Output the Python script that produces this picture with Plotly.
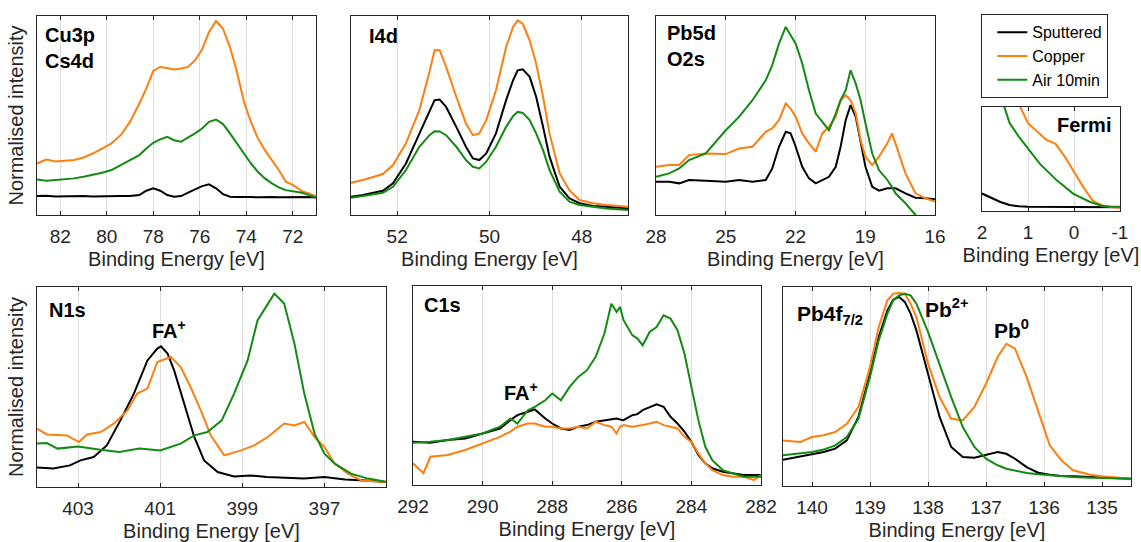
import plotly.graph_objects as go

W, H = 1141, 542
FONT = "Liberation Sans, Arial, sans-serif"
C_SP, C_CU, C_AIR = "#000000", "#ff7f0e", "#138a13"
SERIES = ["Sputtered", "Copper", "Air 10min"]

# ---------------- Cu3p / Cs4d ----------------
cu_e = [83.0, 82.6, 82.2, 81.8, 81.4, 81.0, 80.6, 80.2, 79.8, 79.4, 79.0, 78.6, 78.3, 78.0,
        77.7, 77.4, 77.1, 76.8, 76.5, 76.2, 75.9, 75.6, 75.3, 75.0, 74.7, 74.4, 74.1, 73.8,
        73.5, 73.2, 72.9, 72.6, 72.3, 72.0, 71.6, 71.3, 71.0]
cu_sp = [0.095, 0.097, 0.093, 0.095, 0.094, 0.096, 0.093, 0.095, 0.094, 0.096, 0.095, 0.100, 0.122, 0.134,
         0.122, 0.100, 0.092, 0.095, 0.112, 0.129, 0.145, 0.154, 0.134, 0.105, 0.092, 0.090, 0.091, 0.090,
         0.089, 0.091, 0.090, 0.089, 0.090, 0.090, 0.089, 0.090, 0.088]
cu_cu = [0.259, 0.279, 0.269, 0.273, 0.276, 0.289, 0.309, 0.334, 0.360, 0.401, 0.468, 0.560, 0.635, 0.724,
         0.744, 0.739, 0.731, 0.736, 0.744, 0.778, 0.831, 0.920, 0.975, 0.936, 0.844, 0.719, 0.569, 0.468,
         0.385, 0.326, 0.276, 0.226, 0.167, 0.151, 0.120, 0.109, 0.092]
cu_air = [0.179, 0.172, 0.176, 0.179, 0.184, 0.192, 0.201, 0.212, 0.226, 0.251, 0.276, 0.301, 0.334, 0.363,
          0.380, 0.393, 0.376, 0.368, 0.390, 0.410, 0.435, 0.468, 0.480, 0.457, 0.410, 0.360, 0.309, 0.259,
          0.217, 0.184, 0.159, 0.139, 0.125, 0.119, 0.112, 0.100, 0.089]

# ---------------- I4d ----------------
i4_e = [53.0, 52.74, 52.31, 52.09, 51.81, 51.52, 51.30, 51.19, 51.08, 50.94, 50.72, 50.51, 50.36, 50.22,
        50.07, 49.86, 49.64, 49.49, 49.39, 49.28, 49.13, 48.99, 48.84, 48.70, 48.48, 48.27, 48.05, 47.76,
        47.47, 47.0]
i4_sp = [0.092, 0.100, 0.122, 0.159, 0.259, 0.410, 0.527, 0.577, 0.580, 0.543, 0.443, 0.343, 0.284, 0.276,
         0.309, 0.410, 0.577, 0.677, 0.727, 0.732, 0.694, 0.594, 0.443, 0.293, 0.142, 0.084, 0.059, 0.045,
         0.042, 0.033]
i4_cu = [0.162, 0.176, 0.206, 0.251, 0.360, 0.527, 0.719, 0.828, 0.828, 0.744, 0.594, 0.460, 0.401, 0.410,
         0.477, 0.627, 0.844, 0.945, 0.978, 0.961, 0.878, 0.761, 0.594, 0.410, 0.209, 0.125, 0.075, 0.059,
         0.050, 0.042]
i4_air = [0.087, 0.095, 0.112, 0.142, 0.226, 0.343, 0.401, 0.421, 0.420, 0.401, 0.343, 0.276, 0.242, 0.234,
          0.268, 0.343, 0.443, 0.497, 0.518, 0.513, 0.477, 0.410, 0.326, 0.226, 0.117, 0.067, 0.050, 0.042,
          0.033, 0.025]

# ---------------- Pb5d / O2s ----------------
pb5_e = [28.0, 27.43, 27.0, 26.58, 25.86, 25.0, 24.43, 23.85, 23.28, 23.0, 22.71, 22.42, 22.21, 21.99,
         21.71, 21.42, 21.13, 20.85, 20.56, 20.27, 20.06, 19.84, 19.63, 19.41, 19.2, 18.99, 18.7, 18.41,
         18.05, 17.85, 17.7, 17.27, 16.84, 16.41, 16.0]
pb5_sp = [0.167, 0.167, 0.159, 0.176, 0.172, 0.167, 0.176, 0.167, 0.176, 0.234, 0.343, 0.418, 0.410, 0.343,
          0.242, 0.184, 0.159, 0.176, 0.192, 0.242, 0.343, 0.477, 0.552, 0.493, 0.360, 0.242, 0.142, 0.122,
          0.134, 0.134, 0.134, 0.109, 0.087, 0.084, 0.079]
pb5_cu = [0.242, 0.251, 0.251, 0.301, 0.309, 0.306, 0.334, 0.343, 0.418, 0.435, 0.477, 0.560, 0.535, 0.493,
          0.410, 0.360, 0.318, 0.410, 0.443, 0.493, 0.577, 0.602, 0.577, 0.510, 0.376, 0.293, 0.251, 0.293,
          0.360, 0.410, 0.360, 0.209, 0.109, 0.084, 0.067]
pb5_air = [0.192, 0.209, 0.234, 0.276, 0.309, 0.426, 0.493, 0.577, 0.677, 0.753, 0.861, 0.945, 0.903, 0.861,
           0.761, 0.627, 0.510, 0.468, 0.426, 0.510, 0.577, 0.627, 0.727, 0.661, 0.577, 0.460, 0.309, 0.226,
           0.176, 0.140, 0.109, 0.059, 0.000, -0.033, -0.067]

# ---------------- Fermi edge ----------------
fe_e_sp = [2.0, 1.8, 1.6, 1.4, 1.2, 1.0, 0.5, 0.0, -0.5, -1.0]
fe_sp = [0.168, 0.125, 0.087, 0.058, 0.045, 0.040, 0.040, 0.041, 0.038, 0.035]
fe_e_cu = [1.22, 1.0, 0.8, 0.6, 0.4, 0.2, 0.0, -0.2, -0.4, -0.6, -0.8, -1.0]
fe_cu = [1.05, 0.845, 0.765, 0.684, 0.645, 0.523, 0.377, 0.232, 0.103, 0.055, 0.039, 0.032]
fe_e_air = [1.55, 1.4, 1.2, 1.0, 0.75, 0.38, 0.02, -0.35, -0.6, -0.8, -1.0]
fe_air = [1.05, 0.845, 0.716, 0.600, 0.458, 0.297, 0.168, 0.087, 0.050, 0.040, 0.040]

# ---------------- N1s ----------------
n_e_sp = [404.0, 403.6, 403.2, 402.94, 402.62, 402.3, 401.97, 401.64, 401.31, 401.07, 400.98, 400.82,
          400.66, 400.42, 400.17, 399.93, 399.6, 399.2, 398.8, 398.4, 398.0, 397.5, 397.0, 396.5,
          396.0, 395.48]
n_sp = [0.097, 0.092, 0.108, 0.133, 0.150, 0.208, 0.333, 0.467, 0.633, 0.692, 0.703, 0.667,
        0.583, 0.417, 0.250, 0.133, 0.075, 0.053, 0.058, 0.050, 0.047, 0.042, 0.050, 0.037,
        0.033, 0.025]
n_e_cu = [404.0, 403.76, 403.27, 402.98, 402.78, 402.45, 402.13, 401.8, 401.56, 401.31, 401.07, 400.74,
          400.5, 400.26, 400.01, 399.77, 399.44, 399.03, 398.71, 398.38, 397.98, 397.73, 397.49,
          397.24, 397.0, 396.75, 396.43, 396.1, 395.48]
n_cu = [0.292, 0.263, 0.258, 0.225, 0.263, 0.275, 0.317, 0.383, 0.467, 0.492, 0.625, 0.650,
        0.600, 0.500, 0.383, 0.258, 0.158, 0.183, 0.208, 0.250, 0.317, 0.308, 0.325,
        0.250, 0.200, 0.117, 0.067, 0.033, 0.025]
n_e_air = [404.0, 403.76, 403.5, 403.0, 402.5, 402.0, 401.5, 401.0, 400.5, 400.17, 399.85, 399.5,
           399.2, 398.87, 398.63, 398.38, 398.22, 397.98, 397.73, 397.49, 397.24, 397.0, 396.75,
           396.35, 395.94, 395.48]
n_air = [0.217, 0.220, 0.192, 0.203, 0.187, 0.175, 0.192, 0.183, 0.217, 0.258, 0.275, 0.333,
         0.467, 0.633, 0.833, 0.917, 0.967, 0.917, 0.717, 0.467, 0.267, 0.167, 0.117,
         0.067, 0.042, 0.025]

# ---------------- C1s ----------------
c_e = [292.0, 291.5, 291.0, 290.5, 290.0, 289.5, 289.2, 289.0, 288.7, 288.5, 288.2, 288.0, 287.75,
       287.5, 287.25, 287.0, 286.75, 286.5, 286.3, 286.15, 286.05, 285.95, 285.7, 285.55, 285.4,
       285.2, 285.0, 284.8, 284.6, 284.4, 284.2, 284.0, 283.8, 283.6, 283.4, 283.1, 282.8, 282.5,
       282.2, 282.0]
c_sp = [0.217, 0.212, 0.226, 0.234, 0.259, 0.284, 0.326, 0.351, 0.368, 0.380, 0.334, 0.309, 0.284,
        0.276, 0.293, 0.301, 0.318, 0.326, 0.329, 0.334, 0.329, 0.326, 0.351, 0.356, 0.376,
        0.393, 0.406, 0.393, 0.343, 0.309, 0.268, 0.217, 0.151, 0.109, 0.084, 0.067, 0.059, 0.050,
        0.050, 0.050]
c_e_cu = [292.0, 291.7] + c_e[1:]
c_cu = [0.109, 0.059, 0.142, 0.151, 0.176, 0.209, 0.242, 0.268, 0.293, 0.309, 0.309, 0.293, 0.293,
        0.284, 0.284, 0.293, 0.284, 0.318, 0.301, 0.293, 0.259, 0.293, 0.301, 0.293, 0.296, 0.301,
        0.309, 0.318, 0.301, 0.293, 0.284, 0.242, 0.217, 0.159, 0.109, 0.075, 0.050, 0.042, 0.042,
        0.025, 0.050]
c_air = [0.212, 0.217, 0.226, 0.242, 0.259, 0.293, 0.334, 0.309, 0.376, 0.393, 0.426, 0.460, 0.426,
         0.493, 0.543, 0.577, 0.644, 0.761, 0.911, 0.870, 0.895, 0.828, 0.753, 0.736, 0.702,
         0.769, 0.794, 0.853, 0.836, 0.778, 0.661, 0.493, 0.326, 0.192, 0.125, 0.075, 0.059, 0.042,
         0.042, 0.042]

# ---------------- Pb4f 7/2 ----------------
pb4_e = [140.5, 140.2, 140.0, 139.8, 139.6, 139.4, 139.2, 139.0, 138.85, 138.7, 138.6, 138.5, 138.4,
         138.3, 138.2, 138.0, 137.8, 137.6, 137.4, 137.2, 137.0, 136.8, 136.65, 136.5, 136.3, 136.1,
         135.9, 135.7, 135.5, 135.2, 135.0, 134.5]
pb4_sp = [0.132, 0.149, 0.162, 0.171, 0.188, 0.229, 0.347, 0.564, 0.749, 0.883, 0.936, 0.950, 0.925,
          0.866, 0.782, 0.564, 0.347, 0.196, 0.146, 0.142, 0.157, 0.171, 0.162, 0.137, 0.095, 0.067,
          0.057, 0.050, 0.049, 0.045, 0.042, 0.037]
pb4_cu = [0.229, 0.221, 0.246, 0.255, 0.271, 0.313, 0.397, 0.598, 0.799, 0.933, 0.966, 0.970, 0.966,
          0.916, 0.849, 0.615, 0.447, 0.338, 0.330, 0.397, 0.514, 0.648, 0.715, 0.690, 0.548, 0.380,
          0.204, 0.129, 0.079, 0.057, 0.049, 0.037]
pb4_air = [0.154, 0.166, 0.171, 0.183, 0.204, 0.246, 0.338, 0.548, 0.732, 0.866, 0.933, 0.958, 0.966,
           0.958, 0.916, 0.774, 0.606, 0.447, 0.296, 0.196, 0.137, 0.104, 0.087, 0.079, 0.065, 0.059,
           0.054, 0.049, 0.045, 0.042, 0.040, 0.037]

# tick values / labels
cu_ticks = [82, 80, 78, 76, 74, 72]
i4_ticks = [52, 50, 48]
pb5_ticks = [28, 25, 22, 19, 16]
fe_ticks = [2, 1, 0, -1]
fe_ticklabels = ["2", "1", "0", "-1"]
n_ticks = [403, 401, 399, 397]
c_ticks = [292, 290, 288, 286, 284, 282]
pb4_ticks = [140, 139, 138, 137, 136, 135]

# panels: (pixel box l, t, r, b), x range, ticks, ticklabels, data
panels = [
    dict(box=(37, 16, 316, 215), rng=[83, 71], ticks=cu_ticks, labels=None, ytitle=True,
         data=[(cu_e, cu_sp), (cu_e, cu_cu), (cu_e, cu_air)]),
    dict(box=(351, 16, 628, 215), rng=[53, 47], ticks=i4_ticks, labels=None, ytitle=False,
         data=[(i4_e, i4_sp), (i4_e, i4_cu), (i4_e, i4_air)]),
    dict(box=(656, 16, 935, 215), rng=[28, 16], ticks=pb5_ticks, labels=None, ytitle=False,
         data=[(pb5_e, pb5_sp), (pb5_e, pb5_cu), (pb5_e, pb5_air)]),
    dict(box=(982, 107, 1120, 211), rng=[2, -1], ticks=fe_ticks, labels=fe_ticklabels, ytitle=False,
         data=[(fe_e_sp, fe_sp), (fe_e_cu, fe_cu), (fe_e_air, fe_air)]),
    dict(box=(37, 287, 386, 487), rng=[404, 395.5], ticks=n_ticks, labels=None, ytitle=True,
         data=[(n_e_sp, n_sp), (n_e_cu, n_cu), (n_e_air, n_air)]),
    dict(box=(413, 286, 761, 485), rng=[292, 282], ticks=c_ticks, labels=None, ytitle=False,
         data=[(c_e, c_sp), (c_e_cu, c_cu), (c_e, c_air)]),
    dict(box=(783, 287, 1131, 486), rng=[140.5, 134.5], ticks=pb4_ticks, labels=None, ytitle=False,
         data=[(pb4_e, pb4_sp), (pb4_e, pb4_cu), (pb4_e, pb4_air)]),
]

colors = [C_SP, C_CU, C_AIR]
fig = go.Figure()
layout = dict(
    width=W, height=H, margin=dict(l=0, r=0, t=0, b=0, autoexpand=False),
    paper_bgcolor="white", plot_bgcolor="white",
    font=dict(family=FONT, color="#262626"),
    showlegend=True,
    legend=dict(x=981 / W, y=1 - 14 / H, xanchor="left", yanchor="top",
                bordercolor="#262626", borderwidth=1.3, bgcolor="white",
                font=dict(size=16, family=FONT, color="#000000"),
                itemwidth=30, tracegroupgap=0, indentation=10),
)

for i, p in enumerate(panels):
    n = i + 1
    sfx = "" if n == 1 else str(n)
    l, t, r, b = p["box"]
    for k, (xs, ys) in enumerate(p["data"]):
        fig.add_trace(go.Scatter(
            x=xs, y=ys, mode="lines", name=SERIES[k],
            line=dict(color=colors[k], width=2),
            xaxis="x" + sfx, yaxis="y" + sfx,
            showlegend=(i == 0), legendgroup=SERIES[k], hoverinfo="skip"))
    xa = dict(domain=[l / W, r / W], range=p["rng"], anchor="y" + sfx, automargin=False,
              tickmode="array", tickvals=p["ticks"],
              showline=True, linecolor="#262626", linewidth=1.3, mirror="ticks",
              ticks="inside", ticklen=4, tickcolor="#262626", tickwidth=1,
              showgrid=True, gridcolor="#dedede", gridwidth=1, zeroline=False,
              tickfont=dict(size=19, family=FONT, color="#262626"),
              ticklabelstandoff=4,
              title=dict(text="Binding Energy [eV]", font=dict(size=20, family=FONT, color="#262626"),
                         standoff=6))
    if p["labels"] is not None:
        xa["ticktext"] = p["labels"]
    ya = dict(domain=[1 - b / H, 1 - t / H], range=[0, 1], anchor="x" + sfx, automargin=False,
              showline=True, linecolor="#262626", linewidth=1.3, mirror=True,
              ticks="", showticklabels=False, showgrid=False, zeroline=False)
    if p["ytitle"]:
        ya["title"] = dict(text="Normalised intensity", font=dict(size=20, family=FONT, color="#262626"),
                           standoff=6)
    layout["xaxis" + sfx] = xa
    layout["yaxis" + sfx] = ya

fig.update_layout(**layout)

def lab(text, ax, x, y, xanchor="left", size=20):
    sfx = "" if ax == 1 else str(ax)
    fig.add_annotation(text=text, xref="x" + sfx + " domain", yref="y" + sfx + " domain",
                       x=x, y=y, xanchor=xanchor, yanchor="middle", showarrow=False,
                       align="left", font=dict(size=size, family=FONT, color="#000000"))

lab("<b>Cu3p</b><br><b>Cs4d</b>", 1, 0.02, 0.837)
lab("<b>I4d</b>", 2, 0.058, 0.90)
lab("<b>Pb5d</b><br><b>O2s</b>", 3, 0.032, 0.85)
lab("<b>Fermi</b>", 4, 0.95, 0.83, xanchor="right")
lab("<b>N1s</b>", 5, 0.029, 0.885)
lab("<b>FA<sup>+</sup></b>", 5, 0.324, 0.79)
lab("<b>C1s</b>", 6, 0.026, 0.905)
lab("<b>FA<sup>+</sup></b>", 6, 0.256, 0.47)
lab("<b>Pb4f<sub>7/2</sub></b>", 7, 0.034, 0.86, size=21)
lab("<b>Pb<sup>2+</sup></b>", 7, 0.402, 0.895, size=21)
lab("<b>Pb<sup>0</sup></b>", 7, 0.60, 0.79, size=21)

fig.write_html("out.html")
